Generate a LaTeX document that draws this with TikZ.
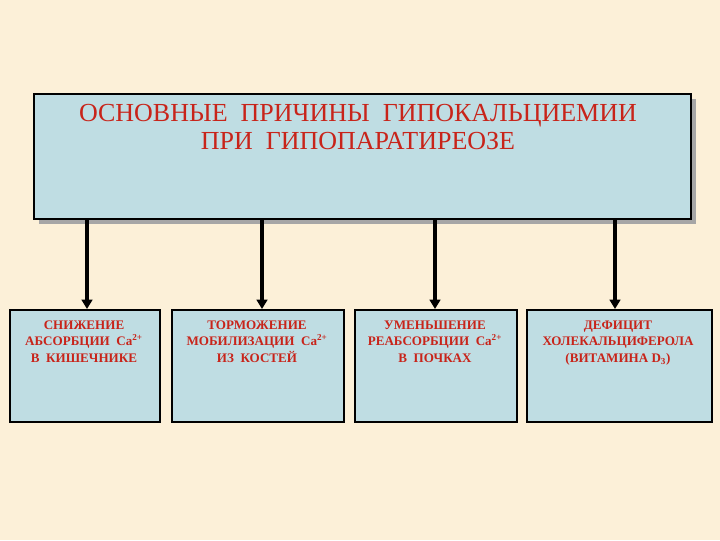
\documentclass[tikz,border=0pt]{standalone}
\usepackage{fontspec}
\setmainfont{Liberation Serif}
\usetikzlibrary{arrows.meta}
\definecolor{bg}{HTML}{FCF0D8}
\definecolor{boxfill}{HTML}{BFDDE3}
\definecolor{txt}{HTML}{C8241A}
\begin{document}
\begin{tikzpicture}[x=0.75pt,y=-0.75pt,
  box/.style={draw=black,line width=1.8pt,fill=boxfill},
  lbl/.style={text=txt,font=\bfseries\fontsize{9.8}{12.3}\selectfont,align=center,anchor=north},
  arr/.style={line width=2.5pt,-{Triangle[length=7pt,width=8pt]}}]
\fill[bg] (0,0) rectangle (720,540);
\useasboundingbox (0,0) rectangle (720,540);
\fill[gray!70] (39,99) rectangle (696,224);
\node[box,minimum width=492.75pt,minimum height=93.75pt,anchor=north west,inner sep=0] (main) at (33,93) {};
\node[text=txt,font=\fontsize{19.5}{20.5}\selectfont,align=center,anchor=north] (title) at (358,100) {ОСНОВНЫЕ\ \ ПРИЧИНЫ\ \ ГИПОКАЛЬЦИЕМИИ\\ПРИ\ \ ГИПОПАРАТИРЕОЗЕ};
\node[box,minimum width=112.5pt,minimum height=84pt,anchor=north west,inner sep=0] (b1) at (9,309) {};
\node[box,minimum width=129pt,minimum height=84pt,anchor=north west,inner sep=0] (b2) at (171,309) {};
\node[box,minimum width=121.5pt,minimum height=84pt,anchor=north west,inner sep=0] (b3) at (354,309) {};
\node[box,minimum width=138.75pt,minimum height=84pt,anchor=north west,inner sep=0] (b4) at (526,309) {};
\node[lbl] (t1) at (84,316) {СНИЖЕНИЕ\\АБСОРБЦИИ\ \ Ca\textsuperscript{2+}\\В\ \ КИШЕЧНИКЕ};
\node[lbl] (t2) at (257,316) {ТОРМОЖЕНИЕ\\МОБИЛИЗАЦИИ\ \ Ca\textsuperscript{2+}\\ИЗ\ \ КОСТЕЙ};
\node[lbl] (t3) at (435,316) {УМЕНЬШЕНИЕ\\РЕАБСОРБЦИИ\ \ Ca\textsuperscript{2+}\\В\ \ ПОЧКАХ};
\node[lbl] (t4) at (618,316) {ДЕФИЦИТ\\ХОЛЕКАЛЬЦИФЕРОЛА\\(ВИТАМИНА D\textsubscript{3})};
\coordinate (s1) at (87,218);
\coordinate (s2) at (262,218);
\coordinate (s3) at (435,218);
\coordinate (s4) at (615,218);
\draw[arr] (s1) -- (s1 |- b1.north);
\draw[arr] (s2) -- (s2 |- b2.north);
\draw[arr] (s3) -- (s3 |- b3.north);
\draw[arr] (s4) -- (s4 |- b4.north);
\end{tikzpicture}
\end{document}
